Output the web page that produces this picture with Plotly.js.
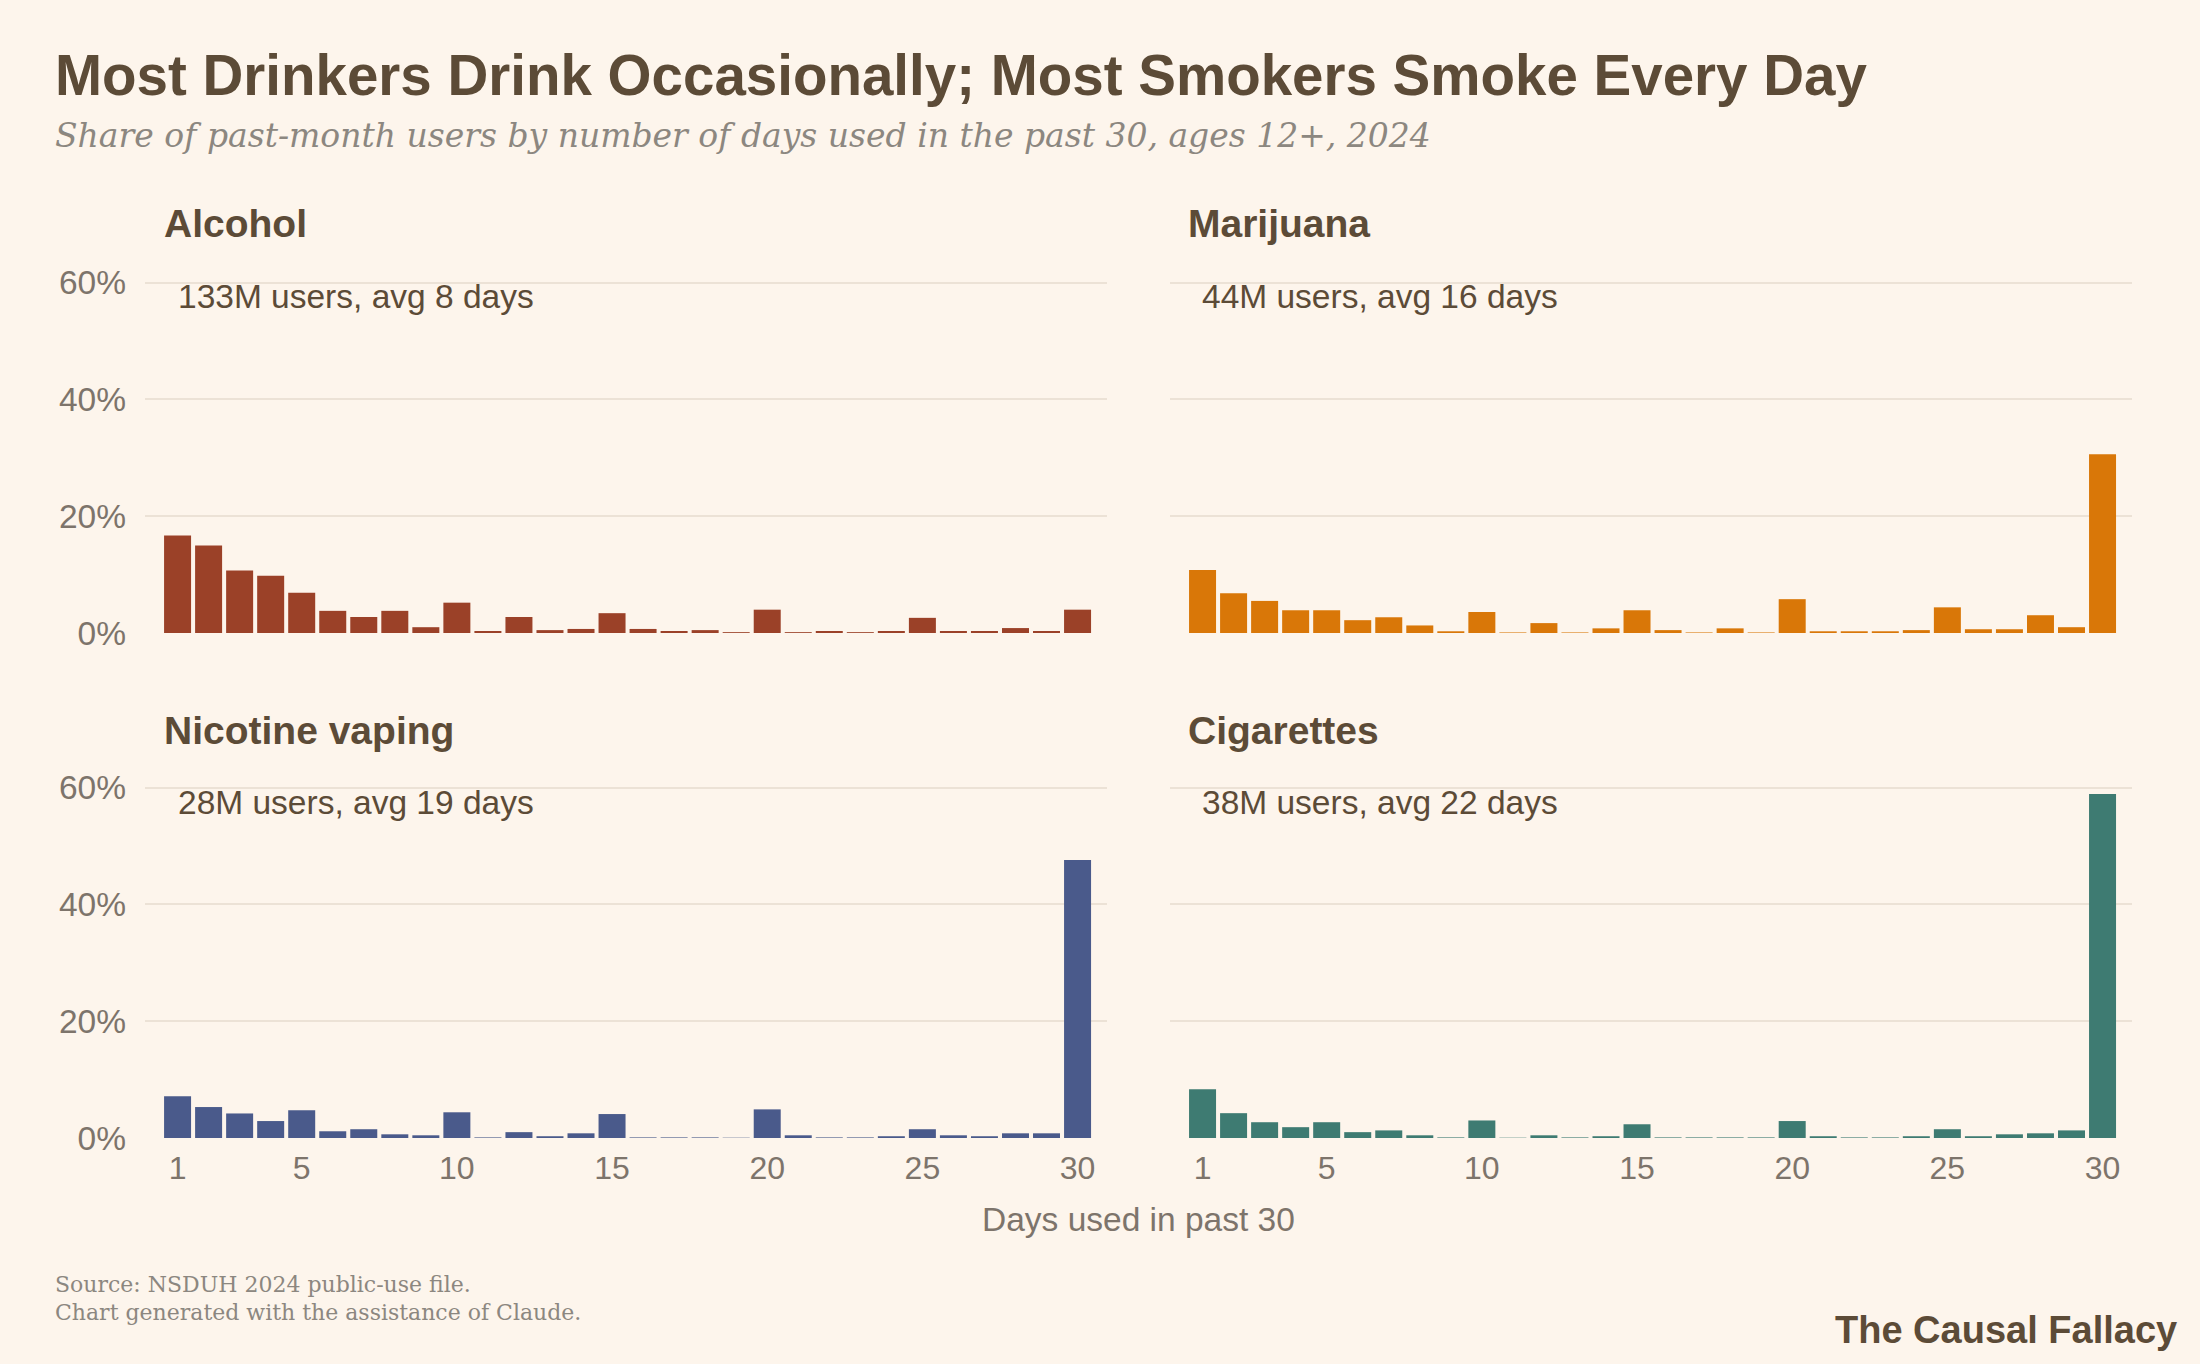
<!DOCTYPE html>
<html>
<head>
<meta charset="utf-8">
<script src="https://cdn.plot.ly/plotly-3.0.1.min.js"></script>
<style>
html, body { margin: 0; padding: 0; background: #fdf5ec; }
#chart { width: 2200px; height: 1364px; }
</style>
</head>
<body>
<div id="chart"></div>
<script>
// days used in past 30
var days = [];
for (var d = 1; d <= 30; d++) days.push(d);

// share of past-month users (%) per number of days
var alcohol = [16.7, 15.0, 10.7, 9.8, 6.9, 3.8, 2.75, 3.8, 1.0, 5.2,
               0.35, 2.75, 0.5, 0.7, 3.4, 0.7, 0.35, 0.5, 0.15, 4.0,
               0.15, 0.35, 0.15, 0.35, 2.6, 0.35, 0.35, 0.85, 0.35, 4.0];
var marijuana = [10.8, 6.8, 5.5, 3.9, 3.9, 2.2, 2.7, 1.3, 0.3, 3.6,
                 0.1, 1.7, 0.1, 0.8, 3.9, 0.5, 0.1, 0.8, 0.1, 5.8,
                 0.3, 0.3, 0.3, 0.5, 4.4, 0.65, 0.65, 3.05, 1.0, 30.6];
var vaping = [7.15, 5.3, 4.2, 2.9, 4.75, 1.15, 1.5, 0.63, 0.46, 4.4,
              0.1, 1.0, 0.3, 0.8, 4.1, 0.1, 0.1, 0.1, 0.05, 4.9,
              0.46, 0.1, 0.1, 0.3, 1.5, 0.46, 0.3, 0.8, 0.8, 47.6];
var cigarettes = [8.35, 4.25, 2.7, 1.85, 2.7, 1.0, 1.3, 0.46, 0.1, 3.0,
                  0.05, 0.46, 0.1, 0.3, 2.35, 0.1, 0.1, 0.1, 0.1, 2.9,
                  0.3, 0.1, 0.1, 0.3, 1.5, 0.3, 0.63, 0.8, 1.3, 58.9];

var panelNames = ['Alcohol', 'Marijuana', 'Nicotine vaping', 'Cigarettes'];
var panelNotes = ['133M users, avg 8 days', '44M users, avg 16 days',
                  '28M users, avg 19 days', '38M users, avg 22 days'];
var panelColors = ['#9b4128', '#d97708', '#4a5a8b', '#3e7b72'];

var yTicks = [0, 20, 40, 60];
var yTickText = ['0%', '20%', '40%', '60%'];
var xTicks = [1, 5, 10, 15, 20, 25, 30];

var bg = '#fdf5ec';
var dark = '#5c4b37';
var grey = '#7d746b';
var grid = '#ece2d6';
var sans = 'Liberation Sans, Arial, sans-serif';
var serif = 'DejaVu Serif, Georgia, serif';

var series = [alcohol, marijuana, vaping, cigarettes];
var data = [];
for (var i = 0; i < 4; i++) {
  data.push({
    x: days,
    y: series[i],
    type: 'bar',
    marker: {color: panelColors[i]},
    xaxis: i == 0 ? 'x' : 'x' + (i + 1),
    yaxis: i == 0 ? 'y' : 'y' + (i + 1),
    hoverinfo: 'x+y',
    showlegend: false
  });
}

var colDom = [[0.0659, 0.5032], [0.5318, 0.9691]];
var rowDom = [[0.5359, 0.8013], [0.1657, 0.4311]];

function xax(col, showLabels, anchor) {
  return {
    domain: colDom[col], anchor: anchor,
    range: [-0.05, 30.95],
    tickvals: xTicks, showticklabels: showLabels,
    showgrid: false, zeroline: false, showline: false, ticks: '',
    tickfont: {family: sans, size: 32, color: grey},
    ticklabelstandoff: 8,
    fixedrange: true
  };
}
function yax(row, showLabels, anchor) {
  return {
    domain: rowDom[row], anchor: anchor,
    range: [0, 62],
    tickvals: yTicks, ticktext: yTickText, showticklabels: showLabels,
    showgrid: true, gridcolor: grid, gridwidth: 2,
    zeroline: false, showline: false, ticks: '',
    tickfont: {family: sans, size: 33.5, color: grey},
    ticklabelstandoff: 18,
    fixedrange: true
  };
}

var annotations = [];
function note(text, x, y, size, color, opts) {
  var a = {
    text: text, x: x, y: y, xref: 'paper', yref: 'paper',
    xanchor: 'left', yanchor: 'middle', showarrow: false,
    font: {family: sans, size: size, color: color}
  };
  for (var k in (opts || {})) a[k] = opts[k];
  annotations.push(a);
}

note('<b>Most Drinkers Drink Occasionally; Most Smokers Smoke Every Day</b>', 0.0241, 0.9443, 56.5, dark);
note('<i>Share of past-month users by number of days used in the past 30, ages 12+, 2024</i>', 0.0241, 0.901, 34, '#8c8780',
     {font: {family: serif, size: 33, color: '#8c8780'}});

var titleX = [0.0735, 0.5389, 0.0735, 0.5389];
var titleY = [0.8361, 0.8361, 0.4641, 0.4641];
var noteX = [0.0800, 0.5454, 0.0800, 0.5454];
var noteY = [0.7826, 0.7826, 0.4115, 0.4115];
for (var j = 0; j < 4; j++) {
  note('<b>' + panelNames[j] + '</b>', titleX[j], titleY[j], 39, dark);
  note(panelNotes[j], noteX[j], noteY[j], 33.5, dark);
}

note('Days used in past 30', 0.5173, 0.1063, 33.5, grey, {xanchor: 'center'});
note('Source: NSDUH 2024 public-use file.', 0.0241, 0.058, 22, '#8c8780',
     {font: {family: serif, size: 22, color: '#8c8780'}});
note('Chart generated with the assistance of Claude.', 0.0241, 0.0374, 22, '#8c8780',
     {font: {family: serif, size: 22, color: '#8c8780'}});
note('<b>The Causal Fallacy</b>', 0.9905, 0.0249, 38, dark, {xanchor: 'right'});

var layout = {
  width: 2200, height: 1364,
  margin: {l: 0, r: 0, t: 0, b: 0},
  paper_bgcolor: bg, plot_bgcolor: bg,
  bargap: 0.13,
  xaxis: xax(0, false, 'y'),
  yaxis: yax(0, true, 'x'),
  xaxis2: xax(1, false, 'y2'),
  yaxis2: yax(0, false, 'x2'),
  xaxis3: xax(0, true, 'y3'),
  yaxis3: yax(1, true, 'x3'),
  xaxis4: xax(1, true, 'y4'),
  yaxis4: yax(1, false, 'x4'),
  annotations: annotations
};

Plotly.newPlot('chart', data, layout, {displayModeBar: false, staticPlot: true});
</script>
</body>
</html>
